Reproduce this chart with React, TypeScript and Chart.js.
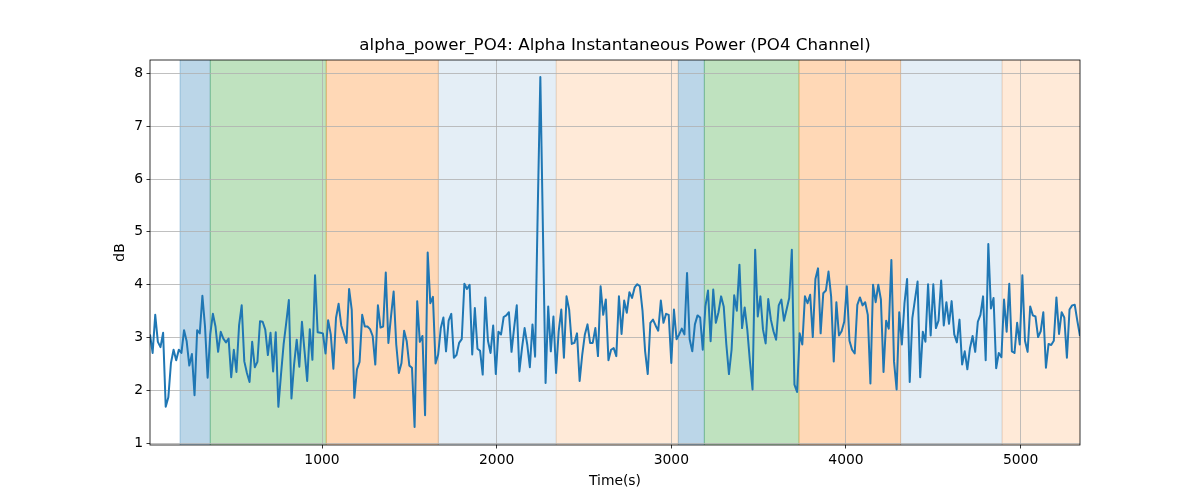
import { useEffect, useRef } from "react";
import { Chart, registerables } from "chart.js";

Chart.register(...registerables);

const TITLE = "alpha_power_PO4: Alpha Instantaneous Power (PO4 Channel)";
const X_LABEL = "Time(s)";
const Y_LABEL = "dB";
const FONT = "'DejaVu Sans', 'Liberation Sans', sans-serif";

// sample times: first sample and sampling step (s)
const T_START = 15;
const T_STEP = 15;

// alpha power (dB)
const POWER_DB = [
  3.06, 2.71, 3.43, 2.92, 2.82, 3.09, 1.69, 1.87, 2.52, 2.77,
  2.57, 2.77, 2.71, 3.14, 2.93, 2.47, 2.69, 1.91, 3.14, 3.08,
  3.79, 3.21, 2.24, 3.06, 3.45, 3.21, 2.73, 3.11, 2.98, 2.91,
  2.98, 2.25, 2.77, 2.35, 3.23, 3.61, 2.55, 2.33, 2.16, 2.92,
  2.44, 2.54, 3.31, 3.30, 3.15, 2.67,
  3.09, 2.36, 3.10, 1.69, 2.30, 2.87, 3.28, 3.71, 1.85, 2.49,
  2.96, 2.45, 3.30, 2.74, 2.18, 3.16, 2.58, 4.18, 3.10, 3.09,
  3.08, 2.70, 3.33, 3.06, 2.41, 3.37, 3.64, 3.23, 3.07, 2.90,
  3.92, 3.53, 1.86, 2.40, 2.54, 3.43, 3.21, 3.21, 3.16, 3.03,
  2.49, 3.61, 3.19, 3.21, 4.23,
  2.90, 3.40, 3.87, 2.87, 2.33, 2.52, 3.13, 2.93, 2.47, 2.43,
  1.31, 3.69, 2.92, 3.03, 1.53, 4.61, 3.65, 3.77, 2.51, 2.68,
  3.18, 3.38, 2.74, 3.32, 3.45, 2.62, 2.67, 2.90, 2.97, 4.02,
  3.92, 4.00, 2.68, 3.56, 2.79, 2.75, 2.30, 3.76, 2.94, 2.71,
  3.23, 2.31, 3.11, 3.06,
  3.39, 3.42, 3.48, 2.73, 3.19, 3.61, 2.36, 2.80, 3.18, 2.87,
  2.44, 3.25, 2.64, 5.40, 7.93, 5.00, 2.14, 3.59, 2.74, 3.40,
  2.33, 3.12, 3.53, 2.62, 3.78, 3.53, 2.88, 2.90, 3.08, 2.18,
  2.68, 3.06, 3.25, 2.90, 2.90, 3.18, 2.65, 3.97, 3.43, 3.72,
  2.57, 2.77, 2.80, 2.65, 3.78,
  3.07, 3.70, 3.47, 3.86, 3.75, 3.95, 4.01, 3.97, 3.51, 2.74,
  2.31, 3.28, 3.34, 3.23, 3.13, 3.70, 3.28, 3.45, 3.43, 2.52,
  3.53, 2.97, 3.06, 3.17, 3.06, 4.22, 2.97, 2.74, 3.25, 3.42,
  3.38, 2.77, 3.59, 3.89, 2.93, 3.91, 3.28, 3.48, 3.78, 3.59,
  2.87, 2.31, 2.77, 3.80,
  3.51, 4.38, 3.18, 3.57, 3.15, 2.55, 2.02, 4.66, 3.40, 3.78,
  3.15, 2.89, 3.73, 3.34, 3.12, 2.96, 3.61, 3.72, 3.32, 3.53,
  3.75, 4.66, 2.11, 1.97, 3.08, 2.87, 3.78, 3.65, 3.81, 3.01,
  4.11, 4.31, 3.08, 3.84, 3.89, 4.25, 3.78, 2.55, 3.67, 3.04,
  3.12, 3.30, 3.97, 2.94, 2.77,
  2.70, 3.62, 3.76, 3.61, 3.67, 3.43, 2.13, 4.00, 3.67, 4.00,
  3.72, 2.35, 3.32, 3.17, 4.47, 2.55, 2.02, 3.48, 2.87, 3.65,
  4.11, 2.16, 3.37, 3.72, 4.06, 2.25, 3.11, 2.92, 4.01, 3.04,
  4.01, 3.18, 3.32, 4.08, 3.23, 3.67, 3.26, 3.69, 3.06, 2.91,
  3.34, 2.49, 2.74, 2.40, 2.80,
  3.03, 2.73, 3.30, 3.43, 3.78, 2.57, 4.77, 3.55, 3.75, 2.42,
  2.71, 2.63, 3.72, 3.11, 4.02, 2.74, 2.71, 3.28, 2.87, 4.18,
  2.94, 2.73, 3.59, 3.42, 3.40, 3.01, 3.12, 3.48, 2.43, 2.88,
  2.86, 2.94, 3.76, 3.07, 3.48, 3.38, 2.62, 3.53, 3.61, 3.62,
  3.31, 3.03,
];

// shaded stage intervals (s)
const SPAN_START = [187, 360, 1024, 1666, 2341, 3040, 3189, 3731, 4313, 4894];
const SPAN_END = [360, 1024, 1666, 2341, 3040, 3189, 3731, 4313, 4894, 5400];
const SPAN_COLOR = [
  "rgba(31,119,180,0.3)",
  "rgba(44,160,44,0.3)",
  "rgba(255,127,14,0.3)",
  "rgba(31,119,180,0.12)",
  "rgba(255,127,14,0.16)",
  "rgba(31,119,180,0.3)",
  "rgba(44,160,44,0.3)",
  "rgba(255,127,14,0.3)",
  "rgba(31,119,180,0.12)",
  "rgba(255,127,14,0.16)",
];

const X_TICKS = [1000, 2000, 3000, 4000, 5000];
const Y_TICKS = [1, 2, 3, 4, 5, 6, 7, 8];
const X_MIN = 15;
const X_MAX = 5340;
const Y_MIN = 0.968;
const Y_MAX = 8.252;

const spansPlugin = {
  id: "stageSpans",
  beforeDraw(chart: any) {
    const { ctx, chartArea: a, scales } = chart;
    const xs = scales.x;
    ctx.save();
    ctx.beginPath();
    ctx.rect(a.left, a.top, a.right - a.left, a.bottom - a.top);
    ctx.clip();
    SPAN_START.forEach((s, i) => {
      const x0 = xs.getPixelForValue(s);
      const x1 = xs.getPixelForValue(SPAN_END[i]);
      ctx.fillStyle = SPAN_COLOR[i];
      ctx.fillRect(x0, a.top, x1 - x0, a.bottom - a.top);
      ctx.strokeStyle = SPAN_COLOR[i];
      ctx.lineWidth = 1;
      ctx.beginPath();
      ctx.moveTo(x0, a.top);
      ctx.lineTo(x0, a.bottom);
      ctx.moveTo(x1, a.top);
      ctx.lineTo(x1, a.bottom);
      ctx.stroke();
    });
    ctx.restore();
  },
};

const framePlugin = {
  id: "frame",
  afterDraw(chart: any) {
    const { ctx, chartArea: a } = chart;
    ctx.save();
    ctx.strokeStyle = "#000";
    ctx.lineWidth = 0.8;
    ctx.strokeRect(a.left, a.top, a.right - a.left, a.bottom - a.top);
    ctx.restore();
  },
};

export default function App() {
  const ref = useRef<HTMLCanvasElement | null>(null);

  useEffect(() => {
    if (!ref.current) return;
    const points = POWER_DB.map((v, i) => ({ x: T_START + i * T_STEP, y: v }));
    const tickFont = { family: FONT, size: 13.89 };
    const chart = new Chart(ref.current, {
      type: "line",
      data: {
        datasets: [
          {
            data: points,
            borderColor: "#1f77b4",
            borderWidth: 2,
            pointRadius: 0,
            tension: 0,
            fill: false,
            borderJoinStyle: "round",
          },
        ],
      },
      options: {
        animation: false,
        responsive: false,
        devicePixelRatio: 1,
        layout: { padding: { left: 0, right: 120, top: 0, bottom: 0 } },
        plugins: {
          legend: { display: false },
          tooltip: { enabled: false },
          title: {
            display: true,
            text: TITLE,
            color: "#000",
            fullSize: false,
            font: { family: FONT, size: 16.67, weight: "normal" },
            padding: { top: 36, bottom: 4 },
          },
        },
        scales: {
          x: {
            type: "linear",
            min: X_MIN,
            max: X_MAX,
            afterBuildTicks: (s: any) => {
              s.ticks = X_TICKS.map((v) => ({ value: v }));
            },
            afterFit: (s: any) => {
              s.height = 55;
            },
            ticks: {
              color: "#000",
              font: tickFont,
              padding: 3.5,
              maxRotation: 0,
              autoSkip: false,
              callback: (v: any) => String(v),
            },
            grid: {
              color: "#b0b0b0",
              lineWidth: 0.8,
              tickLength: 3.5,
              tickColor: "#000",
              tickWidth: 0.8,
            },
            border: { display: false },
            title: {
              display: true,
              text: X_LABEL,
              color: "#000",
              font: tickFont,
              padding: { top: 0, bottom: 10 },
            },
          },
          y: {
            type: "linear",
            min: Y_MIN,
            max: Y_MAX,
            afterBuildTicks: (s: any) => {
              s.ticks = Y_TICKS.map((v) => ({ value: v }));
            },
            afterFit: (s: any) => {
              s.width = 150;
            },
            ticks: {
              color: "#000",
              font: tickFont,
              padding: 3.5,
              autoSkip: false,
              callback: (v: any) => String(v),
            },
            grid: {
              color: "#b0b0b0",
              lineWidth: 0.8,
              tickLength: 3.5,
              tickColor: "#000",
              tickWidth: 0.8,
            },
            border: { display: false },
            title: {
              display: true,
              text: Y_LABEL,
              color: "#000",
              font: tickFont,
              padding: { top: 112, bottom: 0 },
            },
          },
        },
      },
      plugins: [spansPlugin, framePlugin],
    } as any);
    return () => chart.destroy();
  }, []);

  return (
    <div
      style={{
        position: "absolute",
        left: 0,
        top: 0,
        width: 1200,
        height: 500,
        background: "#fff",
      }}
    >
      <canvas
        ref={ref}
        width={1200}
        height={500}
        style={{ display: "block", width: 1200, height: 500 }}
      />
    </div>
  );
}
